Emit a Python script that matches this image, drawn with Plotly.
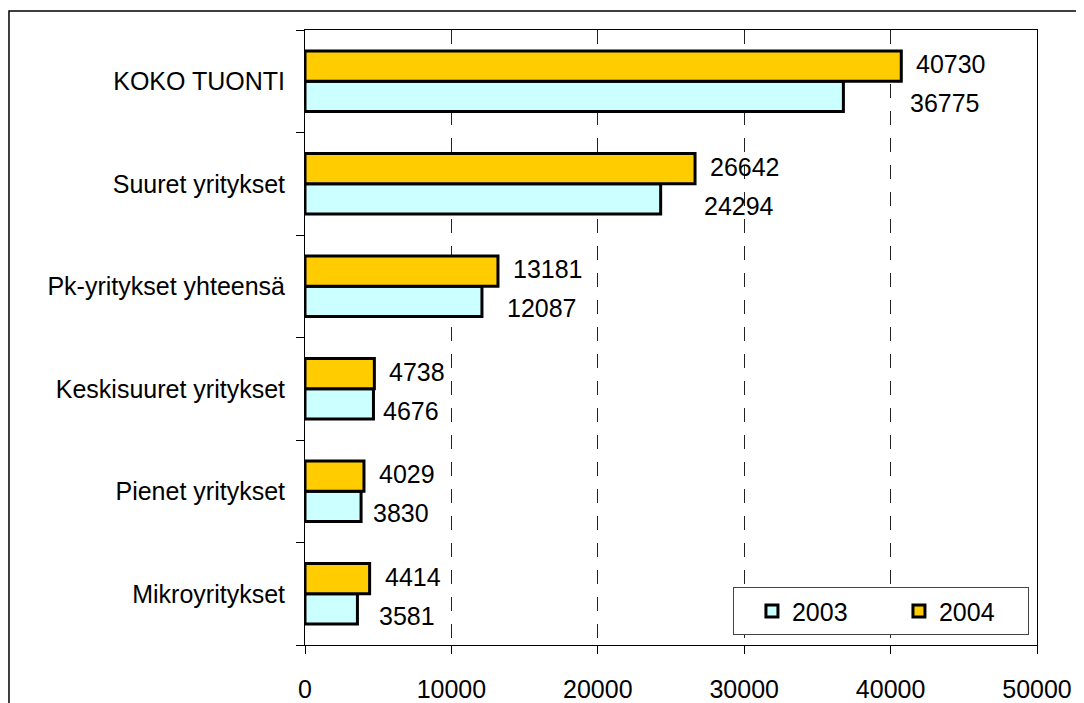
import plotly.graph_objects as go

categories = ["KOKO TUONTI", "Suuret yritykset", "Pk-yritykset yhteensä",
              "Keskisuuret yritykset", "Pienet yritykset", "Mikroyritykset"]
values_2003 = [36775, 24294, 12087, 4676, 3830, 3581]
values_2004 = [40730, 26642, 13181, 4738, 4029, 4414]
x_ticks = [0, 10000, 20000, 30000, 40000, 50000]

FONT = "Liberation Sans, Arial, sans-serif"
FS = 25

fig = go.Figure()
fig.add_trace(go.Bar(
    name="2003", y=categories, x=values_2003, orientation="h",
    marker=dict(color="#CCFFFF", line=dict(color="black", width=3)),
))
fig.add_trace(go.Bar(
    name="2004", y=categories, x=values_2004, orientation="h",
    marker=dict(color="#FFCC00", line=dict(color="black", width=3)),
))

# value labels (placed to the right of each pair of bars)
for cat, v3, v4 in zip(categories, values_2003, values_2004):
    anchor = max(v3, v4)
    fig.add_annotation(x=anchor, y=cat, text=str(v4), showarrow=False,
                       xanchor="left", xshift=13, yshift=17,
                       font=dict(family=FONT, size=FS, color="black"))
    fig.add_annotation(x=anchor, y=cat, text=str(v3), showarrow=False,
                       xanchor="left", xshift=7, yshift=-22,
                       font=dict(family=FONT, size=FS, color="black"))

# outer chart border
fig.add_shape(type="rect", xref="paper", yref="paper",
              x0=-0.4044, x1=1.08, y0=-0.2, y1=1.0309,
              line=dict(color="black", width=1.5), fillcolor="rgba(0,0,0,0)",
              layer="below")

fig.update_layout(
    width=1076, height=695,
    margin=dict(l=297, r=47, t=22, b=58),
    paper_bgcolor="white", plot_bgcolor="white",
    barmode="group", bargap=0.41, bargroupgap=0,
    font=dict(family=FONT, size=FS, color="black"),
    showlegend=True,
    legend=dict(orientation="h", x=0.989, xanchor="right", y=0.016, yanchor="bottom",
                bgcolor="white", bordercolor="#444", borderwidth=1,
                entrywidth=84, entrywidthmode="pixels", indentation=18,
                font=dict(family=FONT, size=FS, color="black"),
                traceorder="normal"),
    xaxis=dict(range=[0, 50000], tickvals=x_ticks, ticktext=[str(t) for t in x_ticks],
               showgrid=True, gridcolor="#222", gridwidth=1, griddash="14px,13px",
               showline=True, linecolor="black", linewidth=1, mirror=True,
               ticks="outside", ticklen=8, tickcolor="black",
               zeroline=False, ticklabelstandoff=14, automargin=False),
    yaxis=dict(categoryorder="array", categoryarray=list(reversed(categories)),
               showline=True, linecolor="black", linewidth=1, mirror=True,
               ticks="outside", ticklen=8, tickcolor="black", tickson="boundaries",
               showgrid=False, ticklabelstandoff=14, automargin=False),
)

fig.write_html("out.html")
